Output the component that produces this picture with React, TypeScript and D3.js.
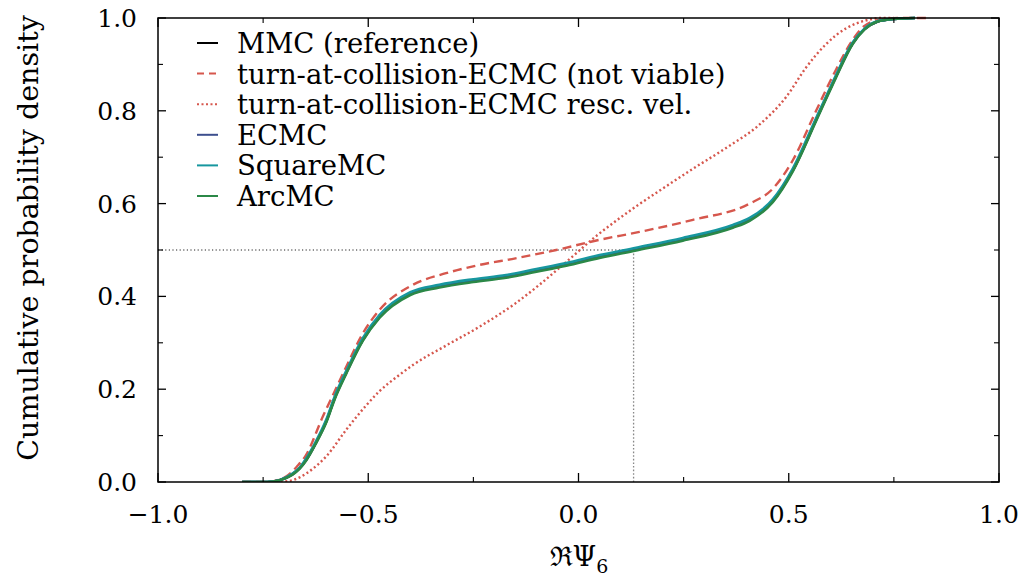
import React from "react";
import * as d3 from "d3";

// ---- data ----
const mmcX = [-0.80, -0.74, -0.711, -0.68, -0.663, -0.648, -0.624, -0.60, -0.58, -0.552, -0.513, -0.473, -0.40, -0.331, -0.25, -0.172, -0.10, -0.029, 0.05, 0.137, 0.248, 0.367, 0.407, 0.462, 0.51, 0.565, 0.59, 0.612, 0.652, 0.68, 0.71, 0.75, 0.80];
const mmcY = [0, 0, 0.004, 0.017, 0.03, 0.047, 0.085, 0.13, 0.18, 0.236, 0.306, 0.356, 0.405, 0.421, 0.433, 0.442, 0.455, 0.468, 0.485, 0.501, 0.522, 0.55, 0.565, 0.605, 0.672, 0.78, 0.83, 0.873, 0.945, 0.976, 0.992, 0.998, 1.0];

const ecmcY = [0, 0, 0.004, 0.017, 0.03, 0.048, 0.086, 0.131, 0.181, 0.237, 0.307, 0.357, 0.406, 0.422, 0.434, 0.443, 0.456, 0.469, 0.486, 0.502, 0.523, 0.551, 0.566, 0.606, 0.673, 0.781, 0.831, 0.874, 0.946, 0.976, 0.992, 0.998, 1.0];
const squareY = [0, 0, 0.004, 0.018, 0.031, 0.05, 0.088, 0.134, 0.184, 0.24, 0.31, 0.36, 0.409, 0.425, 0.437, 0.446, 0.459, 0.472, 0.489, 0.505, 0.526, 0.554, 0.569, 0.609, 0.676, 0.784, 0.833, 0.876, 0.947, 0.977, 0.993, 0.998, 1.0];
const arcY = [0, 0, 0.004, 0.016, 0.029, 0.046, 0.084, 0.128, 0.178, 0.234, 0.304, 0.354, 0.403, 0.419, 0.431, 0.44, 0.453, 0.466, 0.483, 0.499, 0.52, 0.548, 0.563, 0.603, 0.67, 0.778, 0.828, 0.871, 0.944, 0.975, 0.992, 0.998, 1.0];

const dashX = [-0.80, -0.74, -0.715, -0.69, -0.67, -0.648, -0.608, -0.58, -0.552, -0.513, -0.473, -0.394, -0.315, -0.235, -0.15, -0.053, 0.05, 0.145, 0.272, 0.407, 0.462, 0.51, 0.565, 0.612, 0.652, 0.68, 0.72, 0.76, 0.835];
const dashY = [0, 0, 0.004, 0.015, 0.033, 0.058, 0.141, 0.195, 0.249, 0.32, 0.371, 0.425, 0.45, 0.468, 0.482, 0.50, 0.522, 0.539, 0.565, 0.60, 0.632, 0.694, 0.80, 0.888, 0.953, 0.983, 0.997, 1.0, 1.0];

const dotX = [-0.73, -0.69, -0.663, -0.63, -0.60, -0.552, -0.505, -0.473, -0.43, -0.394, -0.315, -0.235, -0.15, -0.093, -0.013, 0.042, 0.10, 0.137, 0.193, 0.272, 0.351, 0.43, 0.494, 0.541, 0.589, 0.637, 0.68, 0.72, 0.75];
const dotY = [0, 0.002, 0.01, 0.03, 0.055, 0.113, 0.165, 0.196, 0.228, 0.252, 0.294, 0.335, 0.385, 0.425, 0.487, 0.53, 0.57, 0.594, 0.628, 0.675, 0.72, 0.77, 0.83, 0.893, 0.944, 0.978, 0.994, 1.0, 1.0];

const xTickMajor = [-1.0, -0.5, 0.0, 0.5, 1.0];
const xTickMinor = [-0.75, -0.25, 0.25, 0.75];
const yTickMajor = [0.0, 0.2, 0.4, 0.6, 0.8, 1.0];
const yTickMinor = [0.1, 0.3, 0.5, 0.7, 0.9];
const medianX = 0.131;
const medianY = 0.5;

const legendLabels = [
  "MMC (reference)",
  "turn-at-collision-ECMC (not viable)",
  "turn-at-collision-ECMC resc. vel.",
  "ECMC",
  "SquareMC",
  "ArcMC",
];

const RED = "#d6574d";
const styles = [
  { color: "#000000", dash: null as string | null, width: 2.5 },
  { color: RED, dash: "9,5", width: 2.4 },
  { color: RED, dash: "2,2.6", width: 2.4 },
  { color: "#3d4f8e", dash: null, width: 2.6 },
  { color: "#17979f", dash: null, width: 2.6 },
  { color: "#2b8847", dash: null, width: 2.6 },
];

const W = 1026;
const H = 581;
const X0 = 158, X1 = 999, Y0 = 482, Y1 = 18;
const FONT = "DejaVu Serif";

export default function App() {
  const x = d3.scaleLinear().domain([-1, 1]).range([X0, X1]);
  const y = d3.scaleLinear().domain([0, 1]).range([Y0, Y1]);
  const line = d3
    .line<[number, number]>()
    .x((d) => x(d[0]))
    .y((d) => y(d[1]))
    .curve(d3.curveMonotoneX);

  const zip = (xs: number[], ys: number[]) => xs.map((v, i) => [v, ys[i]] as [number, number]);
  const series = [
    zip(mmcX, mmcY),
    zip(dashX, dashY),
    zip(dotX, dotY),
    zip(mmcX, ecmcY),
    zip(mmcX, squareY),
    zip(mmcX, arcY),
  ];

  const legendY0 = 43;
  const legendDy = 30.6;

  return (
    <svg
      width={W}
      height={H}
      fontFamily={FONT}
      style={{ position: "absolute", left: 0, top: 0, background: "#fff" }}
    >
      <rect x={0} y={0} width={W} height={H} fill="#fff" />
      <defs>
        <clipPath id="plotclip">
          <rect x={X0} y={Y1 - 3} width={X1 - X0} height={Y0 - Y1 + 3} />
        </clipPath>
      </defs>

      {/* reference lines */}
      <line x1={x(-1)} x2={x(medianX)} y1={y(medianY)} y2={y(medianY)} stroke="#222" strokeWidth={1} strokeDasharray="1.2,2.4" />
      <line x1={x(medianX)} x2={x(medianX)} y1={y(0)} y2={y(medianY)} stroke="#888" strokeWidth={1.3} strokeDasharray="1.6,2" />

      {/* curves */}
      <g clipPath="url(#plotclip)">
        {series.map((s, i) => (
          <path
            key={i}
            d={line(s) || ""}
            fill="none"
            stroke={styles[i].color}
            strokeWidth={styles[i].width}
            strokeDasharray={styles[i].dash || undefined}
            strokeLinejoin="round"
          />
        ))}
      </g>

      {/* frame */}
      <rect x={X0} y={Y1} width={X1 - X0} height={Y0 - Y1} fill="none" stroke="#000" strokeWidth={1.5} />

      {/* ticks */}
      {xTickMajor.map((t) => (
        <g key={"xM" + t}>
          <line x1={x(t)} x2={x(t)} y1={Y0} y2={Y0 - 9} stroke="#000" strokeWidth={1.3} />
          <line x1={x(t)} x2={x(t)} y1={Y1} y2={Y1 + 9} stroke="#000" strokeWidth={1.3} />
          <text x={x(t)} y={523} textAnchor="middle" fontSize={25}>
            {t < 0 ? "\u2212" + Math.abs(t).toFixed(1) : t.toFixed(1)}
          </text>
        </g>
      ))}
      {xTickMinor.map((t) => (
        <g key={"xm" + t}>
          <line x1={x(t)} x2={x(t)} y1={Y0} y2={Y0 - 5} stroke="#000" strokeWidth={1.1} />
          <line x1={x(t)} x2={x(t)} y1={Y1} y2={Y1 + 5} stroke="#000" strokeWidth={1.1} />
        </g>
      ))}
      {yTickMajor.map((t) => (
        <g key={"yM" + t}>
          <line x1={X0} x2={X0 + 8} y1={y(t)} y2={y(t)} stroke="#000" strokeWidth={1.3} />
          <line x1={X1} x2={X1 - 8} y1={y(t)} y2={y(t)} stroke="#000" strokeWidth={1.3} />
          <text x={137} y={y(t)} dy="0.36em" textAnchor="end" fontSize={25}>
            {t.toFixed(1)}
          </text>
        </g>
      ))}
      {yTickMinor.map((t) => (
        <g key={"ym" + t}>
          <line x1={X0} x2={X0 + 5} y1={y(t)} y2={y(t)} stroke="#000" strokeWidth={1.1} />
          <line x1={X1} x2={X1 - 5} y1={y(t)} y2={y(t)} stroke="#000" strokeWidth={1.1} />
        </g>
      ))}

      {/* axis labels */}
      <text x={579} y={566} textAnchor="middle" fontSize={27}>
        <tspan>{"\u211C\u03A8"}</tspan>
        <tspan fontSize={19} dy={7}>6</tspan>
      </text>
      <text
        transform={`translate(38, 238) rotate(-90)`}
        textAnchor="middle"
        fontSize={28.5}
      >
        Cumulative probability density
      </text>

      {/* legend */}
      {legendLabels.map((lab, i) => {
        const cy = legendY0 + i * legendDy;
        return (
          <g key={lab}>
            <line
              x1={197}
              x2={218}
              y1={cy}
              y2={cy}
              stroke={styles[i].color}
              strokeWidth={2}
              strokeDasharray={i === 1 ? "7,5" : i === 2 ? "2,2.5" : undefined}
            />
            <text x={237} y={cy} dy="0.36em" fontSize={27.5}>
              {lab}
            </text>
          </g>
        );
      })}
    </svg>
  );
}
